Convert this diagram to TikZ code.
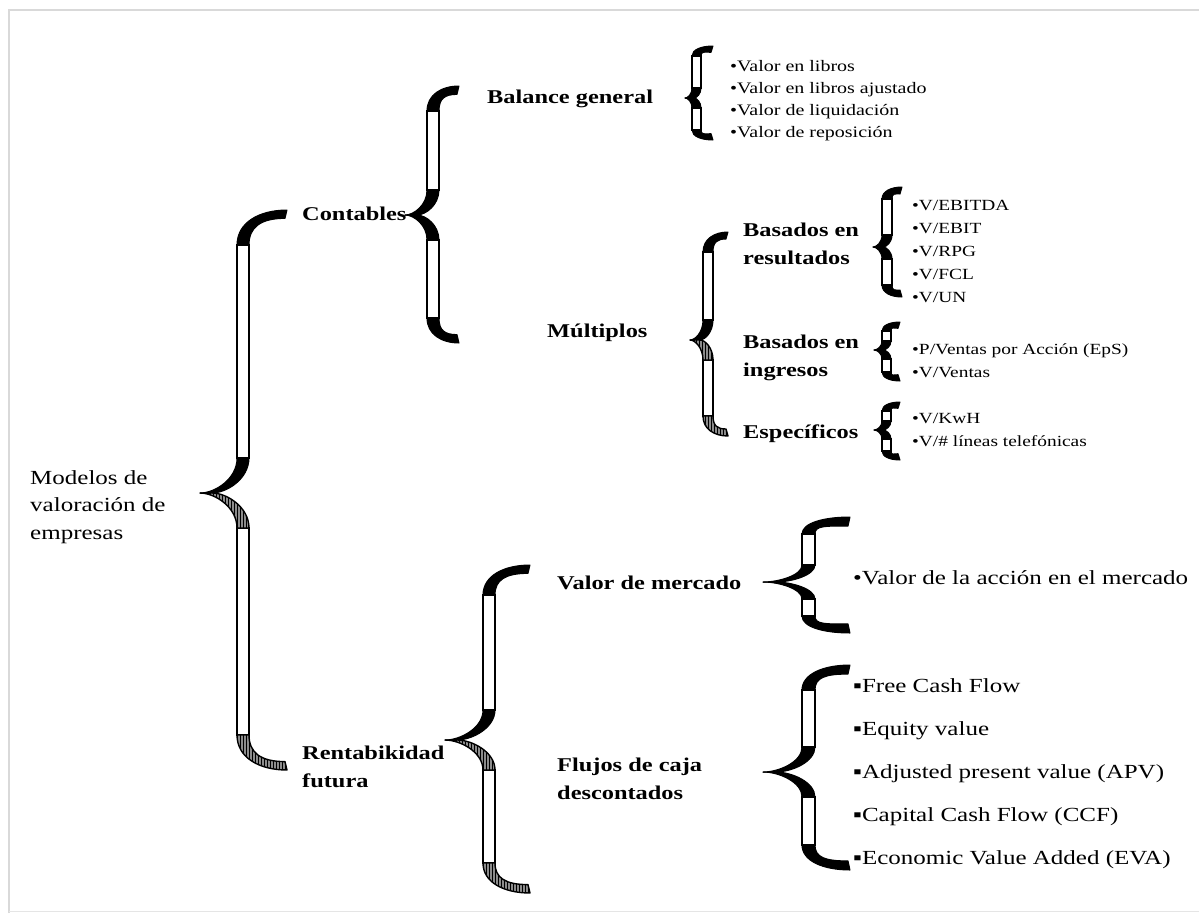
\documentclass[tikz,border=0pt]{standalone}
\usepackage{fontspec}
\setmainfont[FakeStretch=1.25]{Liberation Serif}
\usepackage{tikz}
\usetikzlibrary{positioning,calc,patterns}

% ribbon brace: [style of lower parts]{x left rail}{width}{y top tip}{y cusp}{y bottom tip}{tip dx}{cusp dx}{curl height}
\newcommand{\ribbonbrace}[9][fill=black]{%
  \draw[rail] (#2,{#4+#9}) rectangle ({#2+#3},{#5-#9});
  \draw[rail] (#2,{#5+#9}) rectangle ({#2+#3},{#6-#9});
  % top curl
  \filldraw[band] (#2,{#4+#9}) .. controls (#2,{#4+0.35*#9}) and ({#2+0.45*#7},#4) .. ({#2+#7},#4)
    -- ({#2+#7-2},{#4+0.7*#3}) .. controls ({#2+#3+0.3*(#7-#3)},{#4+0.7*#3}) and ({#2+#3},{#4+0.5*#9}) .. ({#2+#3},{#4+#9}) -- cycle;
  % cusp, upper half
  \filldraw[band] (#2,{#5-#9}) .. controls (#2,{#5-0.4*#9}) and ({#2-0.6*#8},#5) .. ({#2-#8},#5)
    -- ({#2-#8+#3},#5) .. controls ({#2-0.6*#8+#3},#5) and ({#2+#3},{#5-0.4*#9}) .. ({#2+#3},{#5-#9}) -- cycle;
  % cusp, lower half
  \filldraw[band,#1] ({#2-#8},#5) .. controls ({#2-0.6*#8},#5) and (#2,{#5+0.4*#9}) .. (#2,{#5+#9})
    -- ({#2+#3},{#5+#9}) .. controls ({#2+#3},{#5+0.4*#9}) and ({#2-0.6*#8+#3},#5) .. ({#2-#8+#3},#5) -- cycle;
  % bottom curl
  \filldraw[band,#1] (#2,{#6-#9}) .. controls (#2,{#6-0.35*#9}) and ({#2+0.45*#7},#6) .. ({#2+#7},#6)
    -- ({#2+#7-2},{#6-0.7*#3}) .. controls ({#2+#3+0.3*(#7-#3)},{#6-0.7*#3}) and ({#2+#3},{#6-0.5*#9}) .. ({#2+#3},{#6-#9}) -- cycle;
}

\begin{document}
\begin{tikzpicture}[x=1pt,y=-1pt,
    rail/.style={draw=black,fill=white,line width=1.8pt},
    band/.style={draw=black,fill=black,line width=1pt,line join=round},
    hatch/.style={fill=none,preaction={fill=black!45},pattern=vertical lines,pattern color=black,line width=1.4pt},
    head/.style={font=\bfseries\fontsize{19.5}{28}\selectfont,anchor=west,align=left,inner sep=0pt},
    root/.style={font=\fontsize{20}{27.5}\selectfont,anchor=west,align=left,inner sep=0pt},
    small/.style={font=\fontsize{16}{22}\selectfont,anchor=west,align=left,inner sep=0pt},
    large/.style={font=\fontsize{20}{43}\selectfont,anchor=west,align=left,inner sep=0pt}]
    \useasboundingbox (0,0) rectangle (1199,913);
    \draw[black!15,line width=1.5pt] (9,913) -- (9,10) -- (1205,10);
    \draw[black!10,line width=1pt] (9,911) -- (1205,911);

    \node [root] (modelos) at (30,507) {Modelos de\\valoración de\\empresas};

    \node [head] (contables) at (302,214) {Contables};
    \node [head] (rentab) at (302,767) {Rentabikidad\\futura};

    \node [head] (balance) at (487,99) {Balance general};
    \node [head] (multiplos) at (547,333) {Múltiplos};
    \node [head] (mercado) at (557,583) {Valor de mercado};
    \node [head] (flujos) at (557,779) {Flujos de caja\\descontados};

    \node [head] (resultados) at (743,244) {Basados en\\resultados};
    \node [head] (ingresos) at (743,358) {Basados en\\ingresos};
    \node [head] (especificos) at (743,434) {Específicos};

    \node [small] (libros) at (730,101) {•Valor en libros\\•Valor en libros ajustado\\•Valor de liquidación\\•Valor de reposición};
    \node [small,font=\fontsize{15.5}{23}\selectfont] (ebitda) at (912,251) {•V/EBITDA\\•V/EBIT\\•V/RPG\\•V/FCL\\•V/UN};
    \node [small,font=\fontsize{15.5}{23}\selectfont] (ventas) at (912,361) {•P/Ventas por Acción (EpS)\\•V/Ventas};
    \node [small,font=\fontsize{15.5}{23}\selectfont] (kwh) at (912,430) {•V/KwH\\•V/\# líneas telefónicas};

    \node [large] (accion) at (853,578) {•Valor de la acción en el mercado};
    \node [large] (fcf) at (853,774) {▪Free Cash Flow\\▪Equity value\\▪Adjusted present value (APV)\\▪Capital Cash Flow (CCF)\\▪Economic Value Added (EVA)};

    \ribbonbrace[hatch]{237}{12}{210}{493}{770}{50}{37}{35}
    \ribbonbrace{427}{12}{86}{215}{343}{32}{22}{25}
    \ribbonbrace{692}{9}{46}{98}{140}{21}{7}{10}
    \ribbonbrace[hatch]{703}{10}{232}{340}{436}{25}{13}{20}
    \ribbonbrace{882}{10}{187}{247}{297}{20}{9}{12}
    \ribbonbrace{882}{9}{322}{350}{381}{18}{8}{9}
    \ribbonbrace{882}{9}{402}{430}{460}{18}{8}{9}
    \ribbonbrace[hatch]{483}{12}{565}{740}{893}{47}{38}{30}
    \ribbonbrace{802}{13}{517}{582}{633}{48}{39}{17}
    \ribbonbrace{802}{13}{665}{772}{870}{48}{39}{25}

\end{tikzpicture}
\end{document}
